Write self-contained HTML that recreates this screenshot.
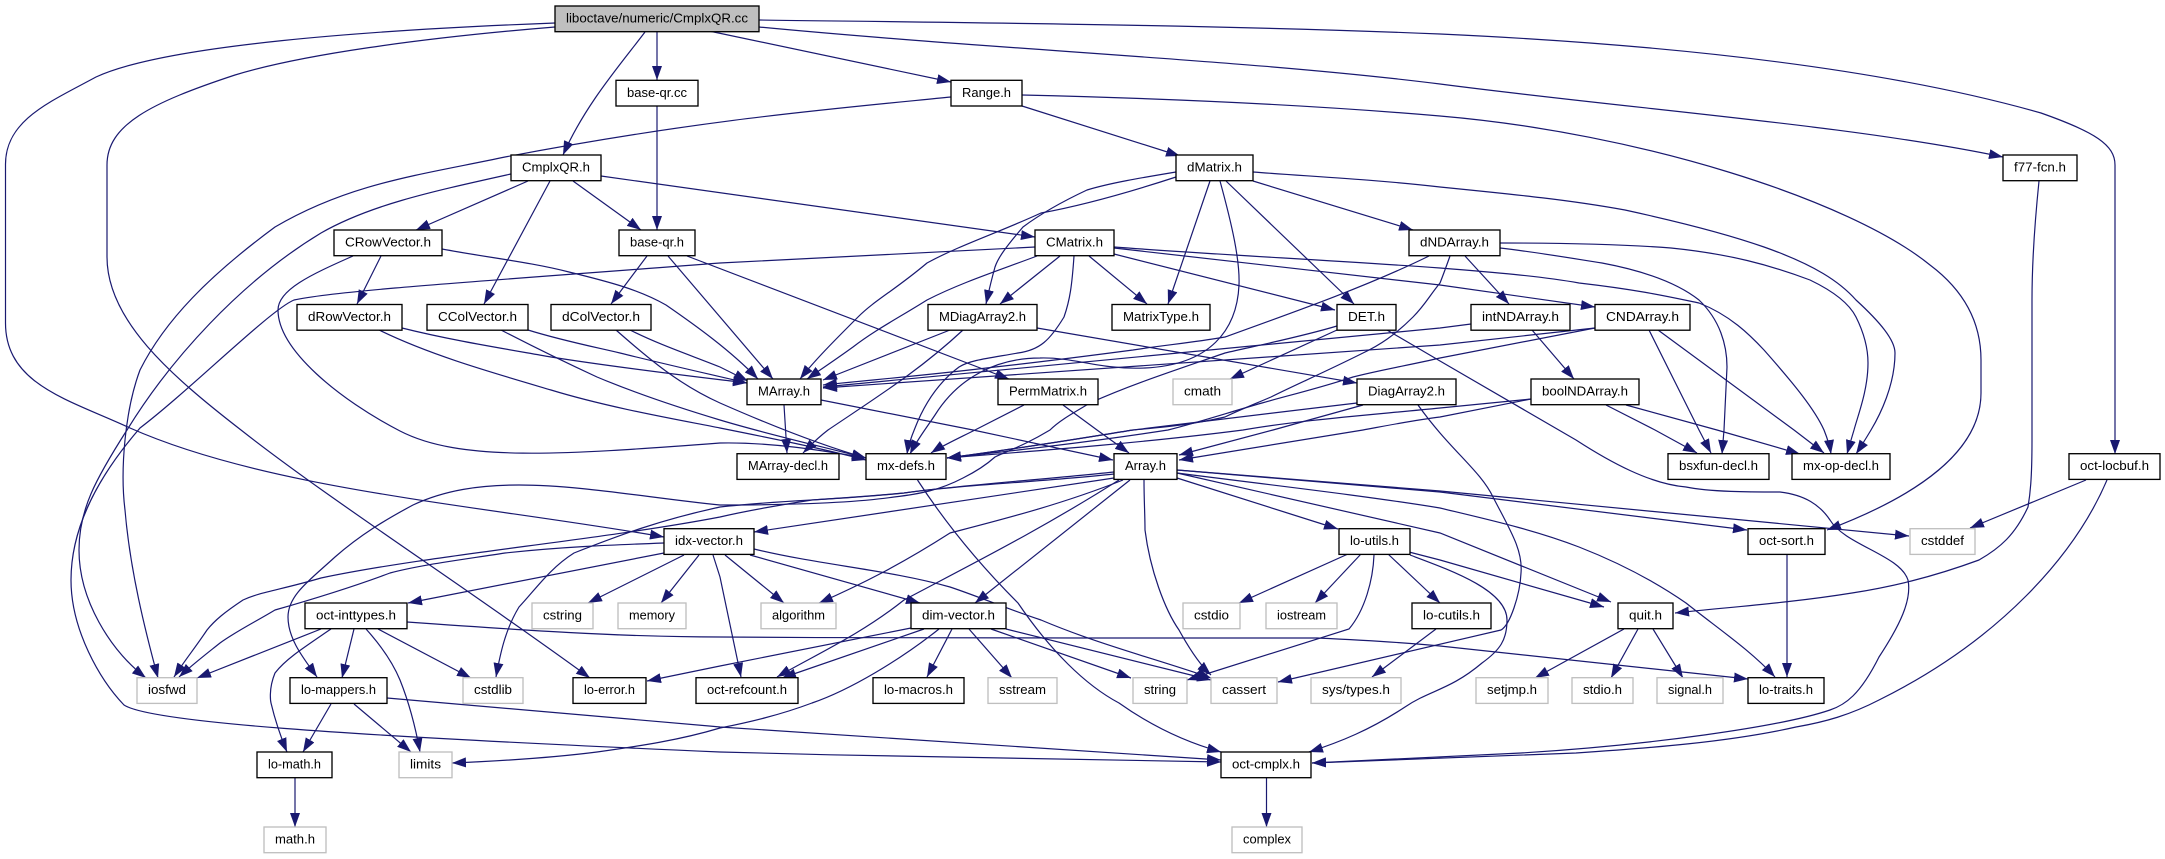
<!DOCTYPE html>
<html><head><meta charset="utf-8"><style>
html,body{margin:0;padding:0;background:#fff;width:2165px;height:859px;overflow:hidden}
svg{display:block}
text{font-family:"Liberation Sans",sans-serif;font-size:13.33px;text-anchor:middle;fill:#000}
.b rect{fill:#fff;stroke:#000;stroke-width:1.33}
.g rect{fill:#fff;stroke:#bfbfbf;stroke-width:1.33}
</style></head><body>
<svg xmlns="http://www.w3.org/2000/svg" width="2165" height="859" viewBox="0 0 2165 859">
<defs><marker id="a" markerUnits="userSpaceOnUse" markerWidth="16" markerHeight="12" refX="14" refY="5" orient="auto"><path d="M0,0L14,5L0,10z" fill="#191970"/></marker></defs>
<g fill="none" stroke="#191970" stroke-width="1.2" marker-end="url(#a)">
<path d="M555,23C370,30 165,45 96,77C50,102 5,120 5.5,165L5.5,323C5.5,385 70,400 130,428C270,490 480,505 664,537"/>
<path d="M555,27C420,38 300,55 235,75C150,103 107,125 107,165L107,257C107,320 170,375 241,430C330,500 470,590 590,678"/>
<path d="M645,32C620,65 585,105 563,155"/>
<path d="M657,32L657,80"/>
<path d="M709,31L951,82"/>
<path d="M759,27C1000,50 1250,60 1440,84C1640,110 1850,125 2003,157"/>
<path d="M759,20C990,23 1220,25 1440,34C1680,45 1890,70 2041,113C2095,132 2115,145 2115,165L2115,454"/>
<path d="M951,97C820,110 700,120 505,157C420,175 350,183 275,227C210,275 165,320 140,370C125,410 120,470 125,510C130,570 145,630 158,678"/>
<path d="M1022,95C1150,98 1300,104 1440,116C1640,133 1850,200 1930,265C1970,295 1981,330 1981,360L1981,393C1981,450 1920,495 1827,530"/>
<path d="M1022,106L1180,156"/>
<path d="M601,176L1035,237"/>
<path d="M511,174C430,192 370,205 321,233C240,282 170,360 127,430C95,480 79,510 79,550C79,600 110,650 146,678"/>
<path d="M1035,247C900,254 800,258 720,263C500,280 340,290 294,300C270,310 190,390 140,428C95,480 71,530 71,580C71,630 100,680 124,705C150,722 330,735 720,752C900,757 1100,760 1221,762"/>
<path d="M528,181L416,230"/>
<path d="M550,181L484,304"/>
<path d="M573,181L641,230"/>
<path d="M657,106L657,230"/>
<path d="M381,256L357,304"/>
<path d="M442,249C490,258 530,262 569,272C610,282 640,290 666,305C695,325 730,350 758,379"/>
<path d="M402,328C450,340 500,348 551,357C620,368 690,376 747,383"/>
<path d="M528,330C560,340 590,346 620,353C660,363 700,372 747,383"/>
<path d="M630,330C660,345 690,355 720,367C730,372 738,376 748,381"/>
<path d="M616,330C650,360 680,385 720,403C770,425 820,445 866,458"/>
<path d="M379,330C430,355 490,372 551,390C610,408 680,420 720,428C770,438 820,448 866,460"/>
<path d="M501,330C530,345 560,360 597,377C640,395 680,408 720,420C770,435 820,446 866,458"/>
<path d="M353,256C310,275 278,290 278,310C278,350 340,400 400,431C460,462 560,455 720,443C770,442 820,450 866,458"/>
<path d="M668,256L773,379"/>
<path d="M647,256L611,304"/>
<path d="M687,256L1009,379"/>
<path d="M1176,177C1130,192 1085,205 1041,213C1000,232 960,245 927,263C895,290 875,300 858,317C835,340 815,360 800,379"/>
<path d="M1176,172C1140,178 1110,183 1087,190C1055,205 1035,218 1023,227C1005,248 998,258 995,267C990,285 988,295 986,304"/>
<path d="M1210,181L1168,304"/>
<path d="M1226,181L1354,304"/>
<path d="M1220,181C1232,225 1240,260 1239,285C1237,330 1210,365 1145,368C1100,370 1075,357 1040,358C1000,358 960,375 935,415C925,430 917,440 910,454"/>
<path d="M1074,256C1072,285 1070,300 1064,317C1050,340 1040,350 1018,353C990,358 970,360 959,367C935,385 922,410 915,428C910,440 908,447 907,454"/>
<path d="M1037,256C1000,270 960,283 927,300C900,317 875,330 853,347C835,360 820,370 807,379"/>
<path d="M1060,256L1000,304"/>
<path d="M1089,256L1147,304"/>
<path d="M1114,254L1335,310"/>
<path d="M1114,248L1440,285L1595,307"/>
<path d="M1114,247C1220,255 1330,260 1440,268C1490,272 1540,276 1579,283C1640,290 1670,297 1699,303C1730,315 1750,335 1764,350C1795,385 1815,410 1824,430C1828,440 1830,447 1831,454"/>
<path d="M1253,181L1413,230"/>
<path d="M1253,172C1320,177 1380,180 1440,187C1520,195 1570,200 1625,210C1680,222 1730,235 1764,247C1815,265 1840,282 1856,300C1880,322 1895,340 1895,353C1895,385 1880,415 1871,430C1865,440 1860,448 1856,454"/>
<path d="M1429,256C1370,285 1300,310 1225,337C1190,343 1165,345 1133,350C1080,357 1040,362 995,367C930,375 870,380 823,385"/>
<path d="M1450,256C1445,270 1442,278 1440,283C1430,295 1425,305 1413,317C1395,335 1380,345 1363,353C1325,372 1295,385 1271,397C1245,408 1235,412 1225,417C1190,425 1165,427 1133,430C1070,440 1010,450 947,458"/>
<path d="M1465,256L1509,304"/>
<path d="M1500,248C1535,252 1570,258 1602,263C1650,272 1680,285 1699,300C1720,320 1727,345 1727,367L1724,430L1722,454"/>
<path d="M1500,243C1560,243 1620,244 1671,248C1730,254 1770,265 1810,280C1835,292 1850,305 1856,317C1865,335 1868,350 1868,363C1868,390 1858,415 1854,430C1851,440 1849,447 1847,454"/>
<path d="M1471,324L1440,328L823,387"/>
<path d="M1532,330L1574,379"/>
<path d="M1595,328L1440,345L823,388"/>
<path d="M1595,328L1440,358C1410,365 1380,370 1353,377C1320,388 1290,395 1262,403C1230,412 1200,422 1168,430C1090,442 1020,450 947,458"/>
<path d="M1531,399L1440,408C1370,415 1300,420 1243,430C1150,442 1050,450 947,458"/>
<path d="M1531,399L1440,417C1415,420 1390,425 1363,430L1179,460"/>
<path d="M1363,405L1273,430L1179,455"/>
<path d="M1357,403C1280,412 1200,422 1133,430C1070,440 1010,450 947,458"/>
<path d="M1337,330L1230,379"/>
<path d="M1337,326C1300,337 1260,345 1225,353C1170,372 1130,385 1090,403C1075,412 1060,420 1050,430C1025,445 1010,450 995,457C985,466 975,472 963,478C940,490 920,494 894,497C860,502 800,505 720,505C650,498 580,485 519,485C480,485 445,490 413,505C385,520 360,535 335,557C310,580 288,595 288,617C288,640 305,660 317,677"/>
<path d="M950,330L823,380"/>
<path d="M963,330C920,370 880,395 828,430C815,440 810,446 803,453"/>
<path d="M1037,328L1357,383"/>
<path d="M784,405L787,453"/>
<path d="M821,400L973,430L1113,460"/>
<path d="M1024,405L975,430C955,440 940,447 931,453"/>
<path d="M1063,405L1097,430L1129,453"/>
<path d="M1418,405C1450,450 1480,470 1493,497C1510,530 1523,550 1521,573C1520,595 1510,625 1501,630L1278,682"/>
<path d="M1387,330L1440,361L1576,440C1610,462 1650,484 1686,487C1710,492 1750,492 1780,492C1805,495 1820,505 1830,520C1845,545 1900,555 1908,580C1912,600 1900,625 1879,657C1860,695 1845,705 1830,710C1780,727 1650,745 1521,753L1312,763"/>
<path d="M1649,330L1699,430L1711,453"/>
<path d="M1658,330L1794,430L1824,453"/>
<path d="M1606,405L1655,430L1697,453"/>
<path d="M1626,405L1717,430L1800,454"/>
<path d="M1114,478L754,532"/>
<path d="M1114,472C1040,480 960,485 904,493C860,497 840,498 812,500C780,505 750,510 720,517C600,540 430,555 321,578C280,590 260,592 243,600C225,612 215,620 207,630C195,648 185,660 174,677"/>
<path d="M1114,474C1040,482 960,485 904,493C840,500 780,500 720,507C660,520 620,535 574,553C550,568 535,590 519,607C505,630 500,655 496,677"/>
<path d="M664,543C610,545 560,547 505,553C460,560 420,565 390,573C350,588 310,600 275,610C255,622 235,632 220,643C205,655 192,665 179,677"/>
<path d="M1123,480C1060,505 1000,520 950,533C900,565 860,585 819,603"/>
<path d="M1119,480C1040,530 970,565 904,600C860,635 815,655 777,677"/>
<path d="M1130,480L975,603"/>
<path d="M1144,480C1144,500 1145,515 1145,530C1150,570 1165,610 1179,630C1190,650 1200,665 1211,675"/>
<path d="M1177,478L1338,529"/>
<path d="M1177,473L1440,533L1611,602"/>
<path d="M1177,473C1270,485 1360,495 1440,508C1490,520 1535,530 1579,547C1625,565 1660,585 1686,603C1720,630 1750,650 1775,677"/>
<path d="M1177,470L1440,492L1747,530"/>
<path d="M1177,470L1440,491L1909,536"/>
<path d="M1348,554L1239,603"/>
<path d="M1361,554L1315,603"/>
<path d="M1388,554L1440,603"/>
<path d="M1374,555C1373,580 1365,610 1349,629L1187,680"/>
<path d="M754,549C820,565 890,570 950,587C980,597 1010,610 1041,620C1100,645 1160,660 1211,678"/>
<path d="M1006,629L1211,680"/>
<path d="M991,629L1131,678"/>
<path d="M969,629L1012,678"/>
<path d="M952,629L927,677"/>
<path d="M924,629L782,678"/>
<path d="M911,628L720,666L647,681"/>
<path d="M939,629C900,660 850,690 812,703C780,715 750,722 720,728C680,740 640,746 597,752C550,758 500,761 452,763"/>
<path d="M664,553L408,603"/>
<path d="M684,555L588,603"/>
<path d="M699,555L661,603"/>
<path d="M713,555L720,577L741,677"/>
<path d="M725,555L784,603"/>
<path d="M750,555L920,603"/>
<path d="M321,629L197,678"/>
<path d="M354,629L342,678"/>
<path d="M331,629C300,650 285,660 275,673C268,690 271,703 271,703C275,720 280,735 287,752"/>
<path d="M366,629C385,650 395,668 400,680C410,705 416,730 420,752"/>
<path d="M378,629L471,678"/>
<path d="M407,622C520,630 620,637 720,637C850,638 1000,638 1087,638C1180,638 1260,638 1317,638C1360,640 1400,642 1440,646L1748,679"/>
<path d="M331,704L303,752"/>
<path d="M354,704L411,752"/>
<path d="M387,698C500,708 610,717 720,727L1221,760"/>
<path d="M295,778L295,827"/>
<path d="M1266.5,778L1266.5,827"/>
<path d="M917.5,480C950,530 985,570 1018,603C1050,650 1085,685 1119,703C1150,725 1185,742 1221,752"/>
<path d="M1410,555C1450,570 1507,590 1507,620C1507,640 1500,650 1482,663C1450,690 1430,690 1405,707C1370,730 1340,742 1309,752"/>
<path d="M1409,552L1440,560L1604,607"/>
<path d="M1436,629L1372,677"/>
<path d="M1624,629L1535,678"/>
<path d="M1638,629L1611,678"/>
<path d="M1653,629L1683,678"/>
<path d="M1787,554L1787,677"/>
<path d="M2039,181C2034,230 2032,265 2032,300L2032,440C2032,480 2030,495 2028,507C2015,535 2000,548 1979,560C1930,578 1890,587 1852,593C1790,603 1730,607 1675,613"/>
<path d="M2086,480L1970,528"/>
<path d="M2107,480C2075,555 2000,640 1879,700C1850,715 1825,722 1796,727C1730,742 1650,748 1576,753L1312,763"/>
</g>
<g class="b">
<rect x="555" y="6" width="204" height="25.7" style="fill:#bfbfbf"/><text x="657" y="22.5" textLength="182" lengthAdjust="spacingAndGlyphs">liboctave/numeric/CmplxQR.cc</text>
<rect x="616" y="80.3" width="82" height="25.7"/><text x="657" y="96.8" textLength="60" lengthAdjust="spacingAndGlyphs">base-qr.cc</text>
<rect x="951" y="80.3" width="71" height="25.7"/><text x="986.5" y="96.8" textLength="49" lengthAdjust="spacingAndGlyphs">Range.h</text>
<rect x="511" y="155" width="90" height="25.7"/><text x="556" y="171.5" textLength="68" lengthAdjust="spacingAndGlyphs">CmplxQR.h</text>
<rect x="1176" y="155" width="77" height="25.7"/><text x="1214.5" y="171.5" textLength="55" lengthAdjust="spacingAndGlyphs">dMatrix.h</text>
<rect x="2003" y="155" width="74" height="25.7"/><text x="2040" y="171.5" textLength="52" lengthAdjust="spacingAndGlyphs">f77-fcn.h</text>
<rect x="334" y="230" width="108" height="25.7"/><text x="388" y="246.5" textLength="86" lengthAdjust="spacingAndGlyphs">CRowVector.h</text>
<rect x="619" y="230" width="76" height="25.7"/><text x="657" y="246.5" textLength="54" lengthAdjust="spacingAndGlyphs">base-qr.h</text>
<rect x="1035" y="230" width="79" height="25.7"/><text x="1074.5" y="246.5" textLength="57" lengthAdjust="spacingAndGlyphs">CMatrix.h</text>
<rect x="1409" y="230" width="91" height="25.7"/><text x="1454.5" y="246.5" textLength="69" lengthAdjust="spacingAndGlyphs">dNDArray.h</text>
<rect x="297" y="304.5" width="105" height="25.7"/><text x="349.5" y="321" textLength="83" lengthAdjust="spacingAndGlyphs">dRowVector.h</text>
<rect x="427" y="304.5" width="101" height="25.7"/><text x="477.5" y="321" textLength="79" lengthAdjust="spacingAndGlyphs">CColVector.h</text>
<rect x="551" y="304.5" width="100" height="25.7"/><text x="601" y="321" textLength="78" lengthAdjust="spacingAndGlyphs">dColVector.h</text>
<rect x="928" y="304.5" width="109" height="25.7"/><text x="982.5" y="321" textLength="87" lengthAdjust="spacingAndGlyphs">MDiagArray2.h</text>
<rect x="1112" y="304.5" width="98" height="25.7"/><text x="1161" y="321" textLength="76" lengthAdjust="spacingAndGlyphs">MatrixType.h</text>
<rect x="1337" y="304.5" width="59" height="25.7"/><text x="1366.5" y="321" textLength="37" lengthAdjust="spacingAndGlyphs">DET.h</text>
<rect x="1471" y="304.5" width="99" height="25.7"/><text x="1520.5" y="321" textLength="77" lengthAdjust="spacingAndGlyphs">intNDArray.h</text>
<rect x="1595" y="304.5" width="95" height="25.7"/><text x="1642.5" y="321" textLength="73" lengthAdjust="spacingAndGlyphs">CNDArray.h</text>
<rect x="747" y="379" width="74" height="25.7"/><text x="784" y="395.5" textLength="52" lengthAdjust="spacingAndGlyphs">MArray.h</text>
<rect x="998" y="379" width="100" height="25.7"/><text x="1048" y="395.5" textLength="78" lengthAdjust="spacingAndGlyphs">PermMatrix.h</text>
<rect x="1357" y="379" width="99" height="25.7"/><text x="1406.5" y="395.5" textLength="77" lengthAdjust="spacingAndGlyphs">DiagArray2.h</text>
<rect x="1531" y="379" width="108" height="25.7"/><text x="1585" y="395.5" textLength="86" lengthAdjust="spacingAndGlyphs">boolNDArray.h</text>
<rect x="737" y="453.7" width="102" height="25.7"/><text x="788" y="470.2" textLength="80" lengthAdjust="spacingAndGlyphs">MArray-decl.h</text>
<rect x="866" y="453.7" width="80" height="25.7"/><text x="906" y="470.2" textLength="58" lengthAdjust="spacingAndGlyphs">mx-defs.h</text>
<rect x="1114" y="453.7" width="63" height="25.7"/><text x="1145.5" y="470.2" textLength="41" lengthAdjust="spacingAndGlyphs">Array.h</text>
<rect x="1668" y="453.7" width="101" height="25.7"/><text x="1718.5" y="470.2" textLength="79" lengthAdjust="spacingAndGlyphs">bsxfun-decl.h</text>
<rect x="1792" y="453.7" width="98" height="25.7"/><text x="1841" y="470.2" textLength="76" lengthAdjust="spacingAndGlyphs">mx-op-decl.h</text>
<rect x="2069" y="453.7" width="91" height="25.7"/><text x="2114.5" y="470.2" textLength="69" lengthAdjust="spacingAndGlyphs">oct-locbuf.h</text>
<rect x="664" y="528.7" width="90" height="25.7"/><text x="709" y="545.2" textLength="68" lengthAdjust="spacingAndGlyphs">idx-vector.h</text>
<rect x="1339" y="528.7" width="71" height="25.7"/><text x="1374.5" y="545.2" textLength="49" lengthAdjust="spacingAndGlyphs">lo-utils.h</text>
<rect x="1748" y="528.7" width="77" height="25.7"/><text x="1786.5" y="545.2" textLength="55" lengthAdjust="spacingAndGlyphs">oct-sort.h</text>
<rect x="305" y="603" width="102" height="25.7"/><text x="356" y="619.5" textLength="80" lengthAdjust="spacingAndGlyphs">oct-inttypes.h</text>
<rect x="911" y="603" width="95" height="25.7"/><text x="958.5" y="619.5" textLength="73" lengthAdjust="spacingAndGlyphs">dim-vector.h</text>
<rect x="1412" y="603" width="79" height="25.7"/><text x="1451.5" y="619.5" textLength="57" lengthAdjust="spacingAndGlyphs">lo-cutils.h</text>
<rect x="1618" y="603" width="55" height="25.7"/><text x="1645.5" y="619.5" textLength="33" lengthAdjust="spacingAndGlyphs">quit.h</text>
<rect x="290" y="677.7" width="97" height="25.7"/><text x="338.5" y="694.2" textLength="75" lengthAdjust="spacingAndGlyphs">lo-mappers.h</text>
<rect x="573" y="677.7" width="73" height="25.7"/><text x="609.5" y="694.2" textLength="51" lengthAdjust="spacingAndGlyphs">lo-error.h</text>
<rect x="696" y="677.7" width="102" height="25.7"/><text x="747" y="694.2" textLength="80" lengthAdjust="spacingAndGlyphs">oct-refcount.h</text>
<rect x="873" y="677.7" width="91" height="25.7"/><text x="918.5" y="694.2" textLength="69" lengthAdjust="spacingAndGlyphs">lo-macros.h</text>
<rect x="1748" y="677.7" width="76" height="25.7"/><text x="1786" y="694.2" textLength="54" lengthAdjust="spacingAndGlyphs">lo-traits.h</text>
<rect x="257" y="752" width="75" height="25.7"/><text x="294.5" y="768.5" textLength="53" lengthAdjust="spacingAndGlyphs">lo-math.h</text>
<rect x="1221" y="752" width="90" height="25.7"/><text x="1266" y="768.5" textLength="68" lengthAdjust="spacingAndGlyphs">oct-cmplx.h</text>
</g>
<g class="g">
<rect x="1173" y="379" width="59" height="25.7"/><text x="1202.5" y="395.5" textLength="37" lengthAdjust="spacingAndGlyphs">cmath</text>
<rect x="1910" y="528.7" width="65" height="25.7"/><text x="1942.5" y="545.2" textLength="43" lengthAdjust="spacingAndGlyphs">cstddef</text>
<rect x="532" y="603" width="61" height="25.7"/><text x="562.5" y="619.5" textLength="39" lengthAdjust="spacingAndGlyphs">cstring</text>
<rect x="618" y="603" width="68" height="25.7"/><text x="652" y="619.5" textLength="46" lengthAdjust="spacingAndGlyphs">memory</text>
<rect x="761" y="603" width="75" height="25.7"/><text x="798.5" y="619.5" textLength="53" lengthAdjust="spacingAndGlyphs">algorithm</text>
<rect x="1183" y="603" width="57" height="25.7"/><text x="1211.5" y="619.5" textLength="35" lengthAdjust="spacingAndGlyphs">cstdio</text>
<rect x="1266" y="603" width="71" height="25.7"/><text x="1301.5" y="619.5" textLength="49" lengthAdjust="spacingAndGlyphs">iostream</text>
<rect x="137" y="677.7" width="60" height="25.7"/><text x="167" y="694.2" textLength="38" lengthAdjust="spacingAndGlyphs">iosfwd</text>
<rect x="463" y="677.7" width="60" height="25.7"/><text x="493" y="694.2" textLength="38" lengthAdjust="spacingAndGlyphs">cstdlib</text>
<rect x="988" y="677.7" width="69" height="25.7"/><text x="1022.5" y="694.2" textLength="47" lengthAdjust="spacingAndGlyphs">sstream</text>
<rect x="1133" y="677.7" width="54" height="25.7"/><text x="1160" y="694.2" textLength="32" lengthAdjust="spacingAndGlyphs">string</text>
<rect x="1211" y="677.7" width="66" height="25.7"/><text x="1244" y="694.2" textLength="44" lengthAdjust="spacingAndGlyphs">cassert</text>
<rect x="1311" y="677.7" width="90" height="25.7"/><text x="1356" y="694.2" textLength="68" lengthAdjust="spacingAndGlyphs">sys/types.h</text>
<rect x="1476" y="677.7" width="72" height="25.7"/><text x="1512" y="694.2" textLength="50" lengthAdjust="spacingAndGlyphs">setjmp.h</text>
<rect x="1572" y="677.7" width="61" height="25.7"/><text x="1602.5" y="694.2" textLength="39" lengthAdjust="spacingAndGlyphs">stdio.h</text>
<rect x="1657" y="677.7" width="66" height="25.7"/><text x="1690" y="694.2" textLength="44" lengthAdjust="spacingAndGlyphs">signal.h</text>
<rect x="399" y="752" width="53" height="25.7"/><text x="425.5" y="768.5" textLength="31" lengthAdjust="spacingAndGlyphs">limits</text>
<rect x="264" y="827" width="62" height="25.7"/><text x="295" y="843.5" textLength="40" lengthAdjust="spacingAndGlyphs">math.h</text>
<rect x="1232" y="827" width="70" height="25.7"/><text x="1267" y="843.5" textLength="48" lengthAdjust="spacingAndGlyphs">complex</text>
</g>
</svg>
</body></html>
